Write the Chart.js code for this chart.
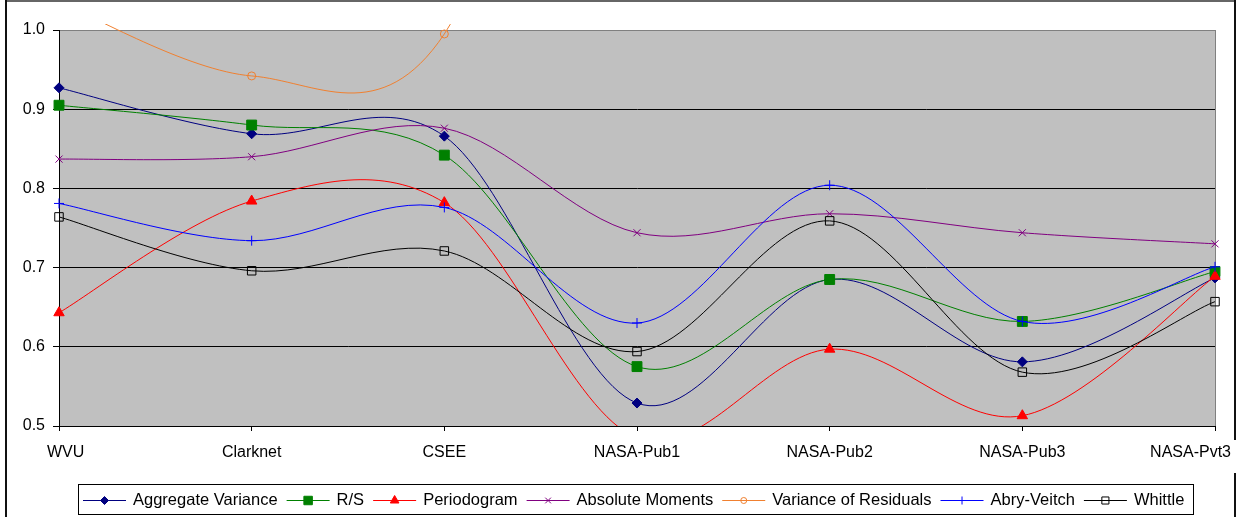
<!DOCTYPE html>
<html>
<head>
<meta charset="utf-8">
<script src="https://cdn.jsdelivr.net/npm/chart.js@4.4.1/dist/chart.umd.min.js"></script>
<style>
  html, body { margin: 0; padding: 0; background: #fff; }
  #wrap { position: relative; width: 1239px; height: 517px; }
</style>
</head>
<body>
<div id="wrap"><canvas id="chart" width="1239" height="517"></canvas></div>
<script>
// Hurst estimates per trace, one array per estimator
const traces = ['WVU', 'Clarknet', 'CSEE', 'NASA-Pub1', 'NASA-Pub2', 'NASA-Pub3', 'NASA-Pvt3'];

const aggregateVariance   = [0.927, 0.869, 0.866, 0.529, 0.685, 0.581, 0.687];
const rsAnalysis          = [0.905, 0.880, 0.842, 0.575, 0.685, 0.632, 0.695];
const periodogram         = [0.643, 0.784, 0.782, 0.485, 0.597, 0.513, 0.689];
const absoluteMoments     = [0.837, 0.840, 0.876, 0.744, 0.768, 0.744, 0.730];
const varianceOfResiduals = [1.035, 0.942, 0.995, 1.67, 1.5, 1.4, 1.3];
const abryVeitch          = [0.781, 0.734, 0.776, 0.630, 0.804, 0.632, 0.701];
const whittle             = [0.764, 0.696, 0.721, 0.594, 0.759, 0.568, 0.657];

const yTicks = [0.5, 0.6, 0.7, 0.8, 0.9, 1.0];

const FONT = '"Liberation Sans", Arial, sans-serif';
Chart.defaults.font.family = FONT;

function series(label, data, color, pointStyle, radius, filled) {
    return {
        label: label,
        data: data,
        borderColor: color,
        borderWidth: 1,
        tension: 0.5,
        fill: false,
        pointStyle: pointStyle,
        pointRadius: radius,
        pointHoverRadius: radius,
        pointBorderColor: color,
        pointBackgroundColor: filled ? color : 'rgba(0,0,0,0)',
        pointBorderWidth: 1,
        clip: { left: 8, top: 6, right: 8, bottom: 0 }
    };
}

const datasets = [
    series('Aggregate Variance', aggregateVariance, '#000080', 'rectRot', 5, true),
    series('R/S', rsAnalysis, '#008000', 'rect', 7, true),
    series('Periodogram', periodogram, '#ff0000', 'triangle', 6, true),
    series('Absolute Moments', absoluteMoments, '#800080', 'crossRot', 5, false),
    series('Variance of Residuals', varianceOfResiduals, '#f08030', 'circle', 4, false),
    series('Abry-Veitch', abryVeitch, '#0000ff', 'cross', 5, false),
    series('Whittle', whittle, '#000000', 'rect', 6, false)
];
// later series sit on top of earlier ones
datasets.forEach((ds, i) => { ds.order = datasets.length - i; });

// uniform Catmull-Rom control points (spreadsheet-style smoothed lines)
const uniformSpline = {
    id: 'uniformSpline',
    beforeDatasetDraw(chart, args) {
        const line = args.meta.dataset;
        const pts = args.meta.data;
        if (!line) return;
        line.updateControlPoints(chart.chartArea, 'x');
        for (let i = 0; i < pts.length; i++) {
            const p = pts[i];
            const prev = pts[i - 1] || p;
            const next = pts[i + 1] || p;
            const dx = (next.x - prev.x) / 6;
            const dy = (next.y - prev.y) / 6;
            p.cp1x = p.x - dx; p.cp1y = p.y - dy;
            p.cp2x = p.x + dx; p.cp2y = p.y + dy;
        }
    }
};

// grey plot area, its border and the outer frame
const plotFrame = {
    id: 'plotFrame',
    beforeDraw(chart) {
        const { ctx, chartArea: a } = chart;
        ctx.save();
        ctx.fillStyle = '#c0c0c0';
        ctx.fillRect(a.left, a.top, a.right - a.left, a.bottom - a.top);
        ctx.strokeStyle = '#808080';
        ctx.lineWidth = 1;
        ctx.strokeRect(a.left + 0.5, a.top + 0.5, a.right - a.left, a.bottom - a.top);
        ctx.fillStyle = '#666';
        ctx.fillRect(5, 0, chart.width - 9, 2);
        ctx.fillStyle = '#111';
        ctx.fillRect(5, 0, 2, chart.height);
        ctx.fillRect(chart.width - 5, 0, 2, 440);
        ctx.fillRect(chart.width - 5, 473, 2, chart.height - 473);
        ctx.restore();
    }
};

// category names under the axis, kept inside the frame
const categoryLabels = {
    id: 'categoryLabels',
    afterDraw(chart) {
        const ctx = chart.ctx;
        const xs = chart.scales.x;
        ctx.save();
        ctx.font = '16px ' + FONT;
        ctx.fillStyle = '#000';
        ctx.textAlign = 'left';
        ctx.textBaseline = 'alphabetic';
        traces.forEach((name, i) => {
            const w = ctx.measureText(name).width;
            let left = xs.getPixelForValue(i) - w / 2;
            left = Math.min(Math.max(left, xs.left - 12), chart.width - 8 - w);
            ctx.fillText(name, left, xs.top + 31);
        });
        ctx.restore();
    }
};

// one-row legend box with line + marker samples
const seriesLegend = {
    id: 'seriesLegend',
    afterDraw(chart) {
        const ctx = chart.ctx;
        ctx.save();
        ctx.font = '16.5px ' + FONT;
        const lineLen = 43, gapText = 7, gapItem = 9, padL = 5, padR = 9;
        const items = chart.data.datasets.map(ds => ({ ds: ds, w: ctx.measureText(ds.label).width }));
        const total = items.reduce((s, it) => s + lineLen + gapText + it.w, 0) + gapItem * (items.length - 1) + padL + padR;
        const boxL = 78, boxT = 484, boxH = 30;
        const cy = 500.5;
        ctx.fillStyle = '#fff';
        ctx.fillRect(boxL, boxT, total, boxH);
        ctx.strokeStyle = '#000';
        ctx.lineWidth = 1;
        ctx.strokeRect(boxL + 0.5, boxT + 0.5, Math.round(total), boxH);
        let x = boxL + padL;
        items.forEach(it => {
            const ds = it.ds;
            ctx.strokeStyle = ds.borderColor;
            ctx.lineWidth = 1;
            ctx.beginPath();
            ctx.moveTo(x, cy);
            ctx.lineTo(x + lineLen, cy);
            ctx.stroke();
            ctx.fillStyle = ds.pointBackgroundColor;
            Chart.helpers.drawPoint(ctx, { pointStyle: ds.pointStyle, radius: ds.pointRadius - 1, borderWidth: 1, rotation: 0 }, x + lineLen / 2, cy);
            x += lineLen + gapText;
            ctx.fillStyle = '#000';
            ctx.textBaseline = 'alphabetic';
            ctx.fillText(ds.label, x, 505);
            x += it.w + gapItem;
        });
        ctx.restore();
    }
};

new Chart(document.getElementById('chart'), {
    type: 'line',
    data: { labels: traces, datasets: datasets },
    options: {
        responsive: false,
        animation: false,
        events: [],
        layout: { padding: { left: 0, top: 30, right: 24, bottom: 0 } },
        elements: { line: { capBezierPoints: false } },
        plugins: { legend: { display: false }, tooltip: { enabled: false } },
        scales: {
            x: {
                type: 'category',
                offset: false,
                grid: { drawOnChartArea: false, drawTicks: true, tickLength: 5, color: '#000', tickColor: '#000' },
                border: { display: true, color: '#000', width: 1 },
                ticks: { display: false },
                afterFit(s) { s.height = 91; }
            },
            y: {
                min: 0.5,
                max: 1.0,
                afterBuildTicks(s) { s.ticks = yTicks.map(v => ({ value: v })); },
                grid: {
                    color: c => (c.tick && c.tick.value === 1 ? '#808080' : '#000'),
                    tickColor: '#000',
                    tickLength: 6,
                    lineWidth: 1
                },
                border: { display: true, color: '#000', width: 1 },
                ticks: {
                    color: '#000',
                    font: { size: 16 },
                    padding: 8,
                    callback: v => v.toFixed(1)
                },
                afterFit(s) { s.width = 59; }
            }
        }
    },
    plugins: [uniformSpline, plotFrame, categoryLabels, seriesLegend]
});
</script>
</body>
</html>
